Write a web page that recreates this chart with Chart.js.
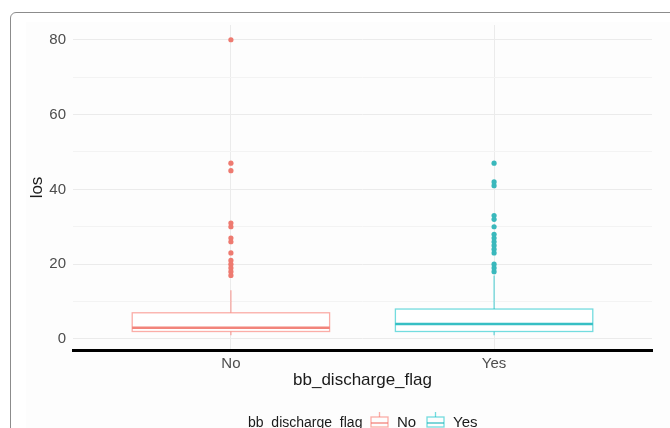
<!DOCTYPE html>
<html>
<head>
<meta charset="utf-8">
<script src="https://cdn.jsdelivr.net/npm/chart.js@4.4.0/dist/chart.umd.min.js"></script>
<style>
  body { margin:0; background:#fff; width:670px; height:428px; overflow:hidden; position:relative; }
  #frame { position:absolute; left:10px; top:12px; width:700px; height:500px; border:1px solid #8c8c8c; border-radius:6px; }
  #panel { position:absolute; left:26px; top:22px; width:660px; height:420px; background:#fdfdfd; }
  #mycanvas { position:absolute; left:0; top:0; }
</style>
</head>
<body>
<div id="frame"></div>
<div id="panel"></div>
<canvas id="mycanvas" width="670" height="428"></canvas>
<script>
// values
var groups = ["No", "Yes"];
var lowerWhisker = [1, 1];
var q1 = [2, 2];
var median = [3, 4];
var q3 = [7, 8];
var upperWhisker = [13, 17];
var outliersNo = [80, 47, 45, 31, 30, 27, 26, 23, 21, 20, 19, 18, 17];
var outliersYes = [47, 42, 41, 33, 32, 30, 28, 27, 26, 25, 24, 23, 20, 19, 18];
var yTicks = [0, 10, 20, 30, 40, 50, 60, 70, 80];

var lineColors = ["rgba(248,118,109,0.6)", "rgba(0,191,196,0.55)"];
var medianColors = ["rgba(240,110,100,0.85)", "rgba(20,180,186,0.85)"];
var pointColors = ["#ee7a70", "#3ab8bc"];

var boxPlugin = {
  id: "boxes",
  beforeDatasetsDraw: function(chart) {
    var ctx = chart.ctx, xs = chart.scales.x, ys = chart.scales.y;
    ctx.save();
    for (var i = 0; i < groups.length; i++) {
      var cx = xs.getPixelForValue(i + 1);
      var half = xs.getPixelForValue(i + 1 + 0.375) - cx;
      var yq1 = ys.getPixelForValue(q1[i]), yq3 = ys.getPixelForValue(q3[i]);
      ctx.strokeStyle = lineColors[i];
      ctx.lineWidth = 1.3;
      ctx.beginPath();
      ctx.moveTo(cx, yq3); ctx.lineTo(cx, ys.getPixelForValue(upperWhisker[i]));
      ctx.moveTo(cx, yq1); ctx.lineTo(cx, ys.getPixelForValue(lowerWhisker[i]));
      ctx.stroke();
      ctx.fillStyle = "#ffffff";
      ctx.fillRect(cx - half, yq3, half * 2, yq1 - yq3);
      ctx.strokeRect(cx - half, yq3, half * 2, yq1 - yq3);
      ctx.strokeStyle = medianColors[i];
      ctx.lineWidth = 2.4;
      ctx.beginPath();
      var ym = ys.getPixelForValue(median[i]);
      ctx.moveTo(cx - half, ym); ctx.lineTo(cx + half, ym);
      ctx.stroke();
    }
    ctx.restore();
  },
  afterDraw: function(chart) {
    // legend along the bottom, ggplot style
    var ctx = chart.ctx;
    ctx.save();
    ctx.textBaseline = "middle";
    ctx.fillStyle = "#1a1a1a";
    ctx.font = "14px 'Liberation Sans', Arial, sans-serif";
    ctx.fillText("bb_discharge_flag", 248, 423);
    var x = 371;
    for (var i = 0; i < groups.length; i++) {
      ctx.strokeStyle = lineColors[i];
      ctx.lineWidth = 1.3;
      ctx.beginPath();
      ctx.moveTo(x + 8.5, 412); ctx.lineTo(x + 8.5, 417);
      ctx.stroke();
      ctx.strokeRect(x, 417, 17, 10);
      ctx.strokeStyle = medianColors[i];
      ctx.beginPath();
      ctx.moveTo(x, 423); ctx.lineTo(x + 17, 423);
      ctx.stroke();
      ctx.fillStyle = "#1a1a1a";
      ctx.font = "15px 'Liberation Sans', Arial, sans-serif";
      ctx.fillText(groups[i], x + 26, 423);
      x += 56;
    }
    ctx.restore();
  }
};

var datasets = [outliersNo, outliersYes].map(function(vals, i) {
  return {
    label: groups[i],
    data: vals.map(function(v) { return {x: i + 1, y: v}; }),
    backgroundColor: pointColors[i],
    borderWidth: 0,
    pointRadius: 2.6
  };
});

var ctx = document.getElementById("mycanvas");
var chart = new Chart(ctx, {
  type: "scatter",
  data: { datasets: datasets },
  options: {
    responsive: false,
    animation: false,
    devicePixelRatio: 1,
    layout: { padding: { top: 25, right: 18, left: 0, bottom: 0 } },
    plugins: { legend: { display: false }, tooltip: { enabled: false } },
    scales: {
      x: {
        type: "linear",
        min: 0.4, max: 2.6,
        afterBuildTicks: function(axis) { axis.ticks = groups.map(function(g, i) { return {value: i + 1}; }); },
        afterFit: function(axis) { axis.height = 78; },
        ticks: {
          padding: 5,
          color: "#4d4d4d",
          font: { size: 15, family: "'Liberation Sans', Arial, sans-serif" },
          callback: function(v) { return groups[v - 1]; }
        },
        grid: { color: "#ebebeb", drawTicks: false },
        border: { display: true, color: "#000", width: 3 },
        title: {
          display: true,
          text: "bb_discharge_flag",
          color: "#1a1a1a",
          font: { size: 17, family: "'Liberation Sans', Arial, sans-serif" },
          padding: { top: 37, bottom: 37 }
        }
      },
      y: {
        min: -2.95, max: 83.95,
        afterBuildTicks: function(axis) { axis.ticks = yTicks.map(function(v) { return {value: v}; }); },
        afterFit: function(axis) { axis.width = 73; },
        ticks: {
          padding: 7,
          color: "#4d4d4d",
          font: { size: 15, family: "'Liberation Sans', Arial, sans-serif" },
          callback: function(v) { return v % 20 === 0 ? v : ""; }
        },
        grid: {
          drawTicks: false,
          color: function(c) { return c.tick && c.tick.value % 20 === 0 ? "#ebebeb" : "#f3f3f3"; }
        },
        border: { display: false },
        title: {
          display: true,
          text: "los",
          color: "#1a1a1a",
          font: { size: 17, family: "'Liberation Sans', Arial, sans-serif" },
          padding: { top: 27, bottom: 27 }
        }
      }
    }
  },
  plugins: [boxPlugin]
});
</script>
</body>
</html>
